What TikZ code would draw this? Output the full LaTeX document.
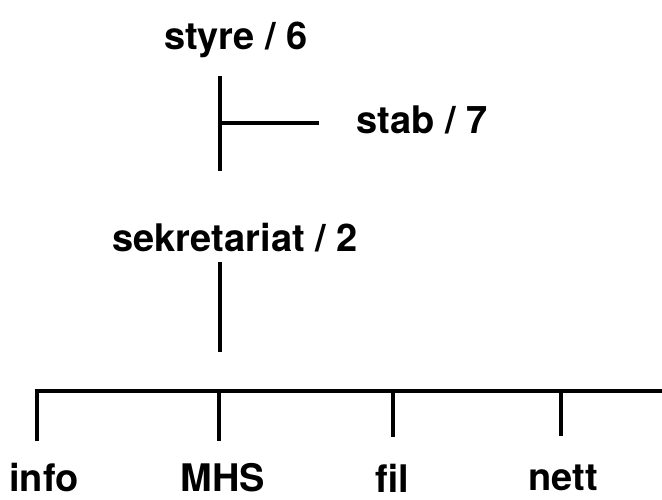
\documentclass[tikz,border=0pt]{standalone}
\usepackage{fontspec}
\setmainfont{TeX Gyre Heros}
\usetikzlibrary{calc}

\tikzset{
  unit/.style={font=\bfseries\fontsize{38}{40}\selectfont, inner sep=0pt},
  orgline/.style={line width=4.5pt}
}

\begin{document}
\begin{tikzpicture}[x=1pt,y=-1pt]
\useasboundingbox (0,0) rectangle (662,500);
% units
\node[unit] (styre) at (236,40) {styre / 6};
\node[unit] (stab) at (422,120) {stab / 7};
\node[unit] (sek) at (235,238) {sekretariat / 2};
\node[unit] (info) at (44,478) {info};
\node[unit] (mhs) at (223,478) {MHS};
\node[unit] (fil) at (392,478) {fil};
\node[unit] (nett) at (563,478) {nett};
% line ends
\coordinate (a1) at (220,76);
\coordinate (a2) at (220,171);
\coordinate (a3) at (220,123);
\coordinate (a4) at (319,123);
\coordinate (b1) at (220,262);
\coordinate (b2) at (220,352);
\coordinate (c1) at (37,391);
\coordinate (c2) at (662,391);
\coordinate (t1) at (37,441);
\coordinate (t2) at (219,441);
\coordinate (t3) at (393,437);
\coordinate (t4) at (561,436);
% lines
\draw[orgline] (a1) -- (a2);
\draw[orgline] (a3) -- (a4);
\draw[orgline] (b1) -- (b2);
\draw[orgline] ([xshift=-2.25pt]c1) -- (c2);
\draw[orgline] (c1) -- (t1);
\draw[orgline] (t2 |- c1) -- (t2);
\draw[orgline] (t3 |- c1) -- (t3);
\draw[orgline] (t4 |- c1) -- (t4);
\end{tikzpicture}
\end{document}
